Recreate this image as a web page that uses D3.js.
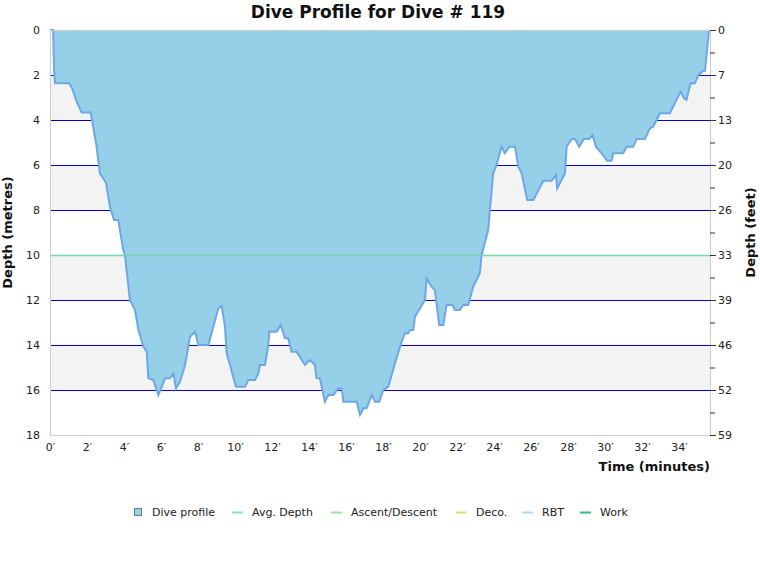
<!DOCTYPE html>
<html>
<head>
<meta charset="utf-8">
<script src="https://cdn.jsdelivr.net/npm/d3@7"></script>
<style>
  body { margin: 0; background: #fff; }
  text { font-family: "DejaVu Sans", Verdana, sans-serif; }
</style>
</head>
<body>
<svg id="chart" width="760" height="580"></svg>
<script>
// dive profile: minutes / metres
const times = [0, 0.17, 0.22, 0.27, 1.03, 1.2, 1.45, 1.71, 2.2, 2.52, 2.7, 3.03, 3.24, 3.46, 3.69, 3.96,
  4.05, 4.32, 4.59, 4.78, 5.05, 5.23, 5.32, 5.59, 5.86, 6.22, 6.49, 6.67, 6.81, 7.03, 7.3, 7.57, 7.84,
  8.02, 8.56, 8.83, 9.1, 9.28, 9.46, 9.55, 9.73, 10.05, 10.54, 10.72, 11.08, 11.26, 11.35, 11.62, 11.8,
  11.86, 12.25, 12.47, 12.7, 12.88, 13.06, 13.33, 13.78, 14.05, 14.32, 14.41, 14.59, 14.86, 15.05, 15.32,
  15.59, 15.77, 15.86, 16.58, 16.76, 16.94, 17.12, 17.39, 17.57, 17.8, 18.02, 18.29, 18.65, 19.01, 19.19,
  19.37, 19.46, 19.64, 19.73, 20.0, 20.27, 20.36, 20.63, 20.81, 21.04, 21.26, 21.44, 21.75, 21.89, 22.16,
  22.34, 22.61, 22.88, 23.24, 23.33, 23.69, 23.78, 23.96, 24.14, 24.41, 24.59, 24.83, 25.14, 25.32, 25.5,
  25.8, 26.13, 26.67, 27.12, 27.35, 27.42, 27.84, 27.93, 28.2, 28.38, 28.61, 28.86, 29.15, 29.33, 29.51,
  29.82, 30.12, 30.36, 30.45, 30.99, 31.17, 31.53, 31.71, 32.16, 32.43, 32.61, 32.97, 33.51, 34.09, 34.27,
  34.41, 34.63, 34.86, 35.05, 35.32, 35.41, 35.5, 35.62, 35.68];
const depths = [0, 0, 1.8, 2.37, 2.37, 2.6, 3.2, 3.67, 3.67, 5.19, 6.37, 6.8, 7.85, 8.44, 8.44, 9.78,
  10.0, 12.0, 12.44, 13.33, 14.07, 14.3, 15.48, 15.56, 16.22, 15.48, 15.48, 15.26, 15.93, 15.63, 14.89, 13.63, 13.41,
  14.0, 14.0, 13.19, 12.37, 12.27, 13.19, 14.37, 14.89, 15.85, 15.85, 15.56, 15.56, 15.26, 14.89, 14.89, 14.0,
  13.41, 13.41, 13.11, 13.7, 13.7, 14.3, 14.3, 14.89, 14.67, 14.89, 15.48, 15.48, 16.52, 16.22, 16.22,
  15.93, 15.93, 16.52, 16.52, 17.11, 16.81, 16.81, 16.22, 16.52, 16.52, 16.0, 15.85, 14.81, 13.85, 13.48,
  13.48, 13.33, 13.33, 12.74, 12.37, 12.0, 11.04, 11.41, 11.56, 13.11, 13.11, 12.22, 12.22, 12.44, 12.44,
  12.22, 12.22, 11.41, 10.81, 10.0, 8.89, 8.0, 6.37, 6.0, 5.19, 5.48, 5.19, 5.19, 6.07, 6.37,
  7.56, 7.56, 6.7, 6.7, 6.44, 7.04, 6.37, 5.19, 4.84, 4.84, 5.19, 4.84, 4.84, 4.67, 5.19,
  5.48, 5.81, 5.81, 5.48, 5.48, 5.19, 5.19, 4.84, 4.84, 4.37, 4.3, 3.7, 3.7, 2.74, 3.04,
  3.11, 2.37, 2.37, 2.0, 1.81, 1.81, 1.04, 0.07, 0];

const avgDepth = 10;
const timeTicks = [0, 2, 4, 6, 8, 10, 12, 14, 16, 18, 20, 22, 24, 26, 28, 30, 32, 34];
const metreTicks = [0, 2, 4, 6, 8, 10, 12, 14, 16, 18];
const feetLabels = ["0", "7", "13", "20", "26", "33", "39", "46", "52", "59"];
const minorMetres = [1, 3, 5, 7, 9, 11, 13, 15, 17];

const legendNames = ["Dive profile", "Avg. Depth", "Ascent/Descent", "Deco.", "RBT", "Work"];
const legendColors = ["#96cfe8", "#7de3c0", "#9be89b", "#dde06a", "#a3dff6", "#2ebd8f"];

const profile = times.map((t, i) => ({ t: t, d: depths[i] }));

const svg = d3.select("#chart");
const plotL = 50, plotR = 710, plotT = 30, plotB = 435;

const x = d3.scaleLinear().domain([0, 35.68]).range([plotL, plotR]);
const y = d3.scaleLinear().domain([0, 18]).range([plotT, plotB]);

// alternating bands
const bands = d3.range(2, 18, 4);
svg.selectAll("rect.band")
  .data(bands)
  .enter()
  .append("rect")
  .attr("class", "band")
  .attr("x", plotL)
  .attr("y", d => y(d))
  .attr("width", plotR - plotL)
  .attr("height", d => y(d + 2) - y(d))
  .attr("fill", "#f3f3f3");

// grid lines
svg.selectAll("line.grid")
  .data(d3.range(2, 17, 2).filter(d => d !== avgDepth))
  .enter()
  .append("line")
  .attr("class", "grid")
  .attr("x1", plotL)
  .attr("x2", plotR)
  .attr("y1", d => y(d) + 0.5)
  .attr("y2", d => y(d) + 0.5)
  .attr("stroke", "#0000ee")
  .attr("stroke-width", 1.2);

// profile area (filled from the surface down)
const area = d3.area()
  .x(d => x(d.t))
  .y0(y(0))
  .y1(d => y(d.d));

svg.append("path")
  .datum(profile)
  .attr("d", area)
  .attr("fill", "#96cfe8");

svg.append("path")
  .datum(profile)
  .attr("d", d3.line().x(d => x(d.t)).y(d => y(d.d)))
  .attr("fill", "none")
  .attr("stroke", "#6ca7e8")
  .attr("stroke-width", 2);

// avg depth line, over the profile
svg.append("line")
  .attr("x1", plotL)
  .attr("x2", plotR)
  .attr("y1", y(avgDepth) + 0.5)
  .attr("y2", y(avgDepth) + 0.5)
  .attr("stroke", "#6fd8b0")
  .attr("stroke-width", 1.6);

// frame lines
svg.append("line").attr("x1", plotL + 0.5).attr("x2", plotL + 0.5).attr("y1", plotT).attr("y2", plotB)
  .attr("stroke", "#cccccc");
svg.append("line").attr("x1", plotL).attr("x2", plotR).attr("y1", plotB + 0.5).attr("y2", plotB + 0.5)
  .attr("stroke", "#cccccc");
svg.append("line").attr("x1", plotL).attr("x2", plotR).attr("y1", plotT + 0.5).attr("y2", plotT + 0.5)
  .attr("stroke", "#cccccc");
svg.append("line").attr("x1", plotR + 0.5).attr("x2", plotR + 0.5).attr("y1", plotT).attr("y2", plotB)
  .attr("stroke", "#cccccc");

// left axis
const leftAxis = svg.append("g")
  .attr("transform", `translate(${plotL},0)`)
  .call(d3.axisLeft(y).tickValues(metreTicks).tickSize(0).tickPadding(10));
leftAxis.select(".domain").remove();
leftAxis.selectAll("text").attr("font-size", 11).attr("fill", "#222")
  .attr("font-family", "DejaVu Sans");

// right axis (feet)
const rightAxis = svg.append("g")
  .attr("transform", `translate(${plotR},0)`)
  .call(d3.axisRight(y).tickValues(metreTicks).tickSize(6).tickPadding(2)
    .tickFormat((d, i) => feetLabels[i]));
rightAxis.select(".domain").remove();
rightAxis.selectAll("line").attr("stroke", "#333");
rightAxis.selectAll("text").attr("font-size", 11).attr("fill", "#222")
  .attr("font-family", "DejaVu Sans");

svg.append("g")
  .selectAll("line")
  .data(minorMetres)
  .enter()
  .append("line")
  .attr("x1", plotR)
  .attr("x2", plotR + 5)
  .attr("y1", d => y(d) + 0.5)
  .attr("y2", d => y(d) + 0.5)
  .attr("stroke", "#333");

// bottom axis
const bottomAxis = svg.append("g")
  .attr("transform", `translate(0,${plotB})`)
  .call(d3.axisBottom(x).tickValues(timeTicks).tickSize(0).tickPadding(8)
    .tickFormat(d => d + "\u2032"));
bottomAxis.select(".domain").remove();
bottomAxis.selectAll("text").attr("font-size", 11).attr("fill", "#222")
  .attr("font-family", "DejaVu Sans");

// titles
svg.append("text")
  .attr("x", 378)
  .attr("y", 18)
  .attr("text-anchor", "middle")
  .attr("font-size", 17)
  .attr("font-weight", "bold")
  .attr("fill", "#111")
  .text("Dive Profile for Dive # 119");

svg.append("text")
  .attr("transform", `translate(12,${(plotT + plotB) / 2}) rotate(-90)`)
  .attr("text-anchor", "middle")
  .attr("font-size", 13)
  .attr("font-weight", "bold")
  .attr("fill", "#111")
  .text("Depth (metres)");

svg.append("text")
  .attr("transform", `translate(755,${(plotT + plotB) / 2}) rotate(-90)`)
  .attr("text-anchor", "middle")
  .attr("font-size", 13)
  .attr("font-weight", "bold")
  .attr("fill", "#111")
  .text("Depth (feet)");

svg.append("text")
  .attr("x", plotR)
  .attr("y", 471)
  .attr("text-anchor", "end")
  .attr("font-size", 13)
  .attr("font-weight", "bold")
  .attr("fill", "#111")
  .text("Time (minutes)");

// legend
const legendX = [134, 232, 331, 456, 522, 580];
const legend = svg.append("g");
legendNames.forEach((name, i) => {
  const g = legend.append("g").attr("transform", `translate(${legendX[i]},512)`);
  if (i === 0) {
    g.append("rect")
      .attr("x", 0.5).attr("y", -3.5)
      .attr("width", 7).attr("height", 7)
      .attr("fill", legendColors[i])
      .attr("stroke", "#777");
  } else {
    g.append("line")
      .attr("x1", 0).attr("x2", 11)
      .attr("y1", 0.5).attr("y2", 0.5)
      .attr("stroke", legendColors[i])
      .attr("stroke-width", 2);
  }
  g.append("text")
    .attr("x", i === 0 ? 18 : 20)
    .attr("y", 4)
    .attr("font-size", 11)
    .attr("fill", "#222")
    .text(name);
});
</script>
</body>
</html>
